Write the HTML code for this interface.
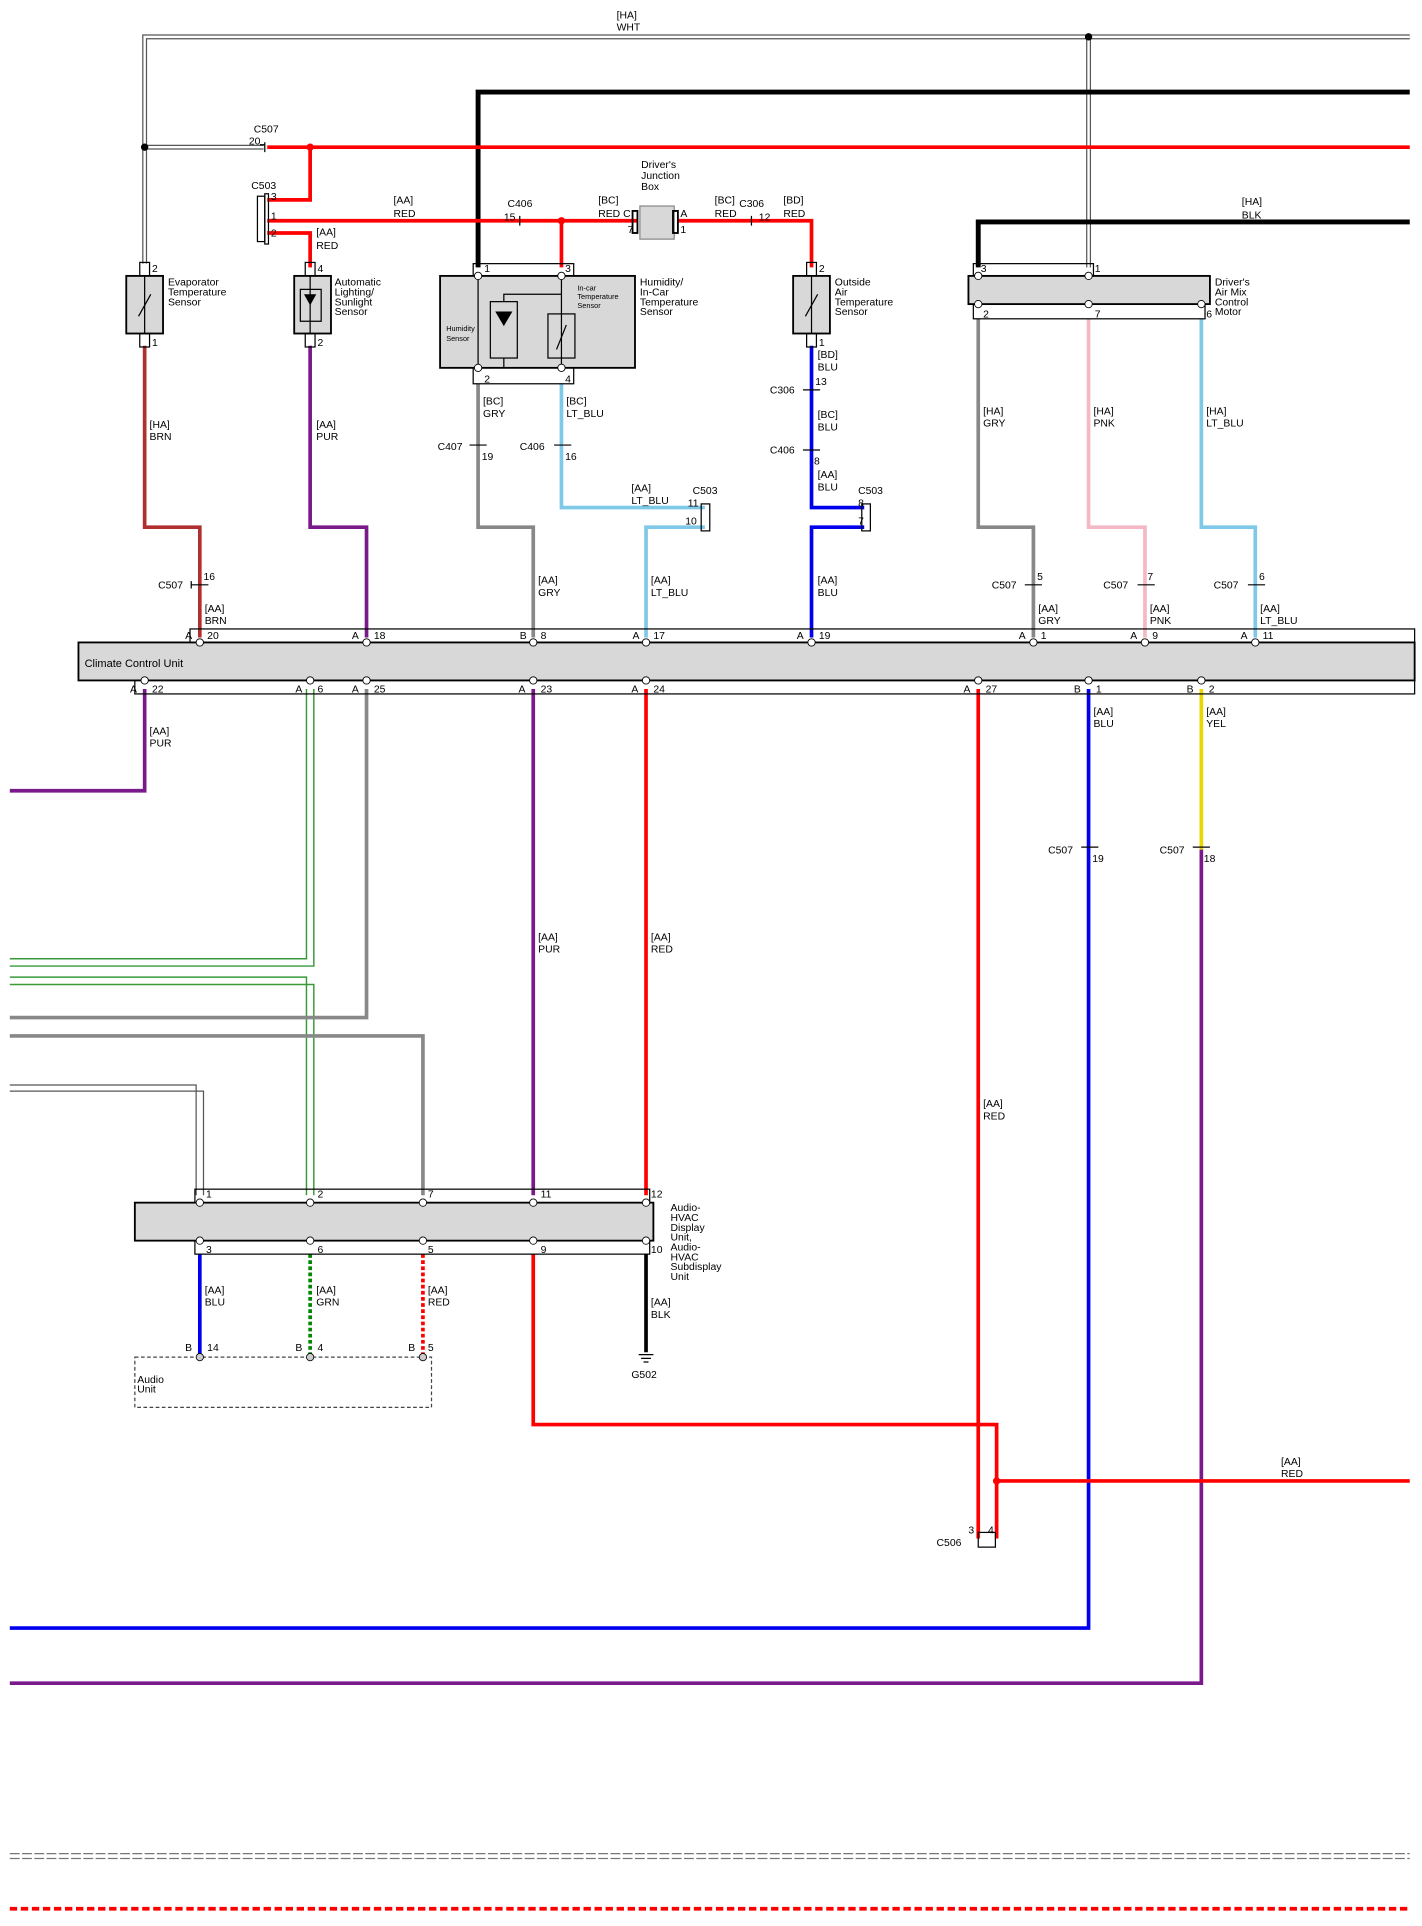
<!DOCTYPE html>
<html><head><meta charset="utf-8"><style>
html,body{margin:0;padding:0;background:#fff;}
svg{display:block}
text{font-family:"Liberation Sans",Arial,sans-serif;font-size:8.5px;fill:#000}
</style></head><body>
<svg width="1422" height="1926" viewBox="0 0 1160 1571" xmlns="http://www.w3.org/2000/svg">
<g fill="none" stroke-linejoin="miter">
<!-- WHT double lines -->
<path d="M118,215 V30 H1150 M888,30 V218 M118,120 H215" stroke="#555" stroke-width="4"/>
<path d="M118,215 V30 H1150 M888,30 V218 M118,120 H215" stroke="#fff" stroke-width="2"/>
<!-- black -->
<path d="M390,218 V75 H1150" stroke="#000" stroke-width="4"/>
<path d="M798,218 V181 H1150" stroke="#000" stroke-width="4"/>
<!-- reds -->
<path d="M218,120 H1150 M253,120 V163 H218 M218,180 H520 M553,180 H662 V218 M458,180 V218 M218,190 H253 V218" stroke="#f00" stroke-width="3"/>
<!-- sensor wires down -->
<path d="M118,282 V430 H163 V520" stroke="#b03030" stroke-width="3"/>
<path d="M253,282 V430 H299 V520" stroke="#7a1a8a" stroke-width="3"/>
<path d="M390,313 V430 H435 V520" stroke="#888" stroke-width="3"/>
<path d="M458,313 V414 H575 M575,430 H527 V520" stroke="#7ec8e8" stroke-width="3"/>
<path d="M662,282 V414 H705 M705,430 H662 V520" stroke="#0000ee" stroke-width="3"/>
<path d="M798,260 V430 H843 V520" stroke="#888" stroke-width="3"/>
<path d="M888,260 V430 H934 V520" stroke="#f4b8c4" stroke-width="3"/>
<path d="M980,260 V430 H1024 V520" stroke="#7ec8e8" stroke-width="3"/>
<!-- below CCU -->
<path d="M118,562 V645 H8" stroke="#7a1a8a" stroke-width="3"/>
<path d="M250,562 V782 H8 M256,562 V788 H8" stroke="#3a9a3a" stroke-width="1.2"/>
<path d="M8,797 H250 V975 M8,803 H256 V975" stroke="#3a9a3a" stroke-width="1.2"/>
<path d="M299,562 V830 H8" stroke="#888" stroke-width="3"/>
<path d="M8,845 H345 V975" stroke="#888" stroke-width="3"/>
<path d="M8,885 H160 V975 M8,890 H166 V975" stroke="#555" stroke-width="1"/>
<path d="M435,562 V975" stroke="#7a1a8a" stroke-width="3"/>
<path d="M527,562 V975" stroke="#f00" stroke-width="3"/>
<path d="M798,562 V1255" stroke="#f00" stroke-width="3"/>
<path d="M888,562 V1328 H8" stroke="#0000ee" stroke-width="3"/>
<path d="M980,562 V693" stroke="#e8d800" stroke-width="3"/>
<path d="M980,693 V1373 H8" stroke="#7a1a8a" stroke-width="3"/>
<!-- HVAC below -->
<path d="M163,1023 V1105" stroke="#0000ee" stroke-width="3"/>
<path d="M253,1023 V1105" stroke="#080" stroke-width="3" stroke-dasharray="3,2"/>
<path d="M345,1023 V1105" stroke="#f00" stroke-width="3" stroke-dasharray="3,2"/>
<path d="M435,1023 V1162 H813 V1255 M813,1208 H1150" stroke="#f00" stroke-width="3"/>
<path d="M527,1023 V1103" stroke="#000" stroke-width="3"/>
<!-- bottom dashed -->
<path d="M8,1512 H1150 M8,1516 H1150" stroke="#777" stroke-width="1" stroke-dasharray="8,2"/>
<path d="M8,1557 H1150" stroke="#f00" stroke-width="3" stroke-dasharray="6,3"/>
</g>
<!-- dots -->
<g fill="#000"><circle cx="118" cy="120" r="3"/><circle cx="888" cy="30" r="3"/></g>
<g fill="#f00"><circle cx="253" cy="120" r="3"/><circle cx="458" cy="180" r="3"/><circle cx="813" cy="1208" r="3"/></g>
<!-- components -->
<g stroke="#000" stroke-width="1.5" fill="#d8d8d8">
<rect x="103" y="225" width="30" height="47"/>
<rect x="240" y="225" width="30" height="47"/>
<rect x="359" y="225" width="159" height="75"/>
<rect x="647" y="225" width="30" height="47"/>
<rect x="790" y="225" width="197" height="23"/>
<rect x="64" y="524" width="1090" height="31"/>
<rect x="110" y="981" width="423" height="31"/>
<rect x="522" y="168" width="28" height="27" stroke="#888" stroke-width="1"/>
</g>
<g stroke="#000" stroke-width="1" fill="none">
<rect x="114" y="214" width="8" height="11"/><rect x="114" y="272" width="8" height="11"/>
<rect x="249" y="214" width="8" height="11"/><rect x="249" y="272" width="8" height="11"/>
<rect x="658" y="214" width="8" height="11"/><rect x="658" y="272" width="8" height="11"/>
<rect x="386" y="215" width="82" height="10"/><rect x="386" y="300" width="82" height="13"/>
<rect x="794" y="215" width="98" height="10"/><rect x="794" y="248" width="189" height="12"/>
<rect x="155" y="513" width="999" height="11"/><rect x="110" y="555" width="1044" height="11"/>
<rect x="159" y="970" width="371" height="11"/><rect x="159" y="1012" width="371" height="11"/>
<rect x="210" y="160" width="6" height="37"/><rect x="216" y="158" width="3" height="41"/>
<rect x="516" y="172" width="4" height="18" stroke-width="1.5"/><rect x="549" y="172" width="4" height="18" stroke-width="1.5"/>
<rect x="400" y="246" width="22" height="46"/><rect x="447" y="256" width="22" height="36"/>
<rect x="572" y="411" width="7" height="22"/><rect x="703" y="411" width="7" height="22"/>
<rect x="798" y="1250" width="14" height="12"/>
<rect x="110" y="1107" width="242" height="41" stroke-dasharray="3,2" stroke="#444"/>
<path d="M390,225 V300 M458,225 V300 M458,240 H411 V246 M411,292 V300 H390"/>
<path d="M118,225 V272 M253,225 V272 M662,225 V272"/>
<path d="M253,236 H245 V262 H262 V236 H253"/>
<path d="M113,258 L123,240 M454,285 L462,265 M657,258 L667,240"/>
<!-- connectors small -->
<path d="M216,116 v8 M212,118 h4 M424,176 v8 M613,176 v8 M156,477 h14 M156,474 v6 M383,363 h14 M452,363 h14 M655,318 h14 M655,367 h14 M836,477 h14 M928,477 h14 M1018,477 h14 M882,691 h14 M973,691 h14"/>
<path d="M521,1105 h12 M523,1108 h8 M525,1111 h4"/>
</g>
<path d="M404,254 h14 l-7,12 z" fill="#000"/>
<path d="M248,240 h10 l-5,9 z" fill="#000"/>
<g fill="#fff" stroke="#000" stroke-width="0.7">
<circle cx="390" cy="225" r="3"/><circle cx="458" cy="225" r="3"/><circle cx="390" cy="300" r="3"/><circle cx="458" cy="300" r="3"/>
<circle cx="798" cy="225" r="3"/><circle cx="888" cy="225" r="3"/><circle cx="798" cy="248" r="3"/><circle cx="888" cy="248" r="3"/><circle cx="980" cy="248" r="3"/>
<circle cx="163" cy="524" r="3"/><circle cx="299" cy="524" r="3"/><circle cx="435" cy="524" r="3"/><circle cx="527" cy="524" r="3"/><circle cx="662" cy="524" r="3"/><circle cx="843" cy="524" r="3"/><circle cx="934" cy="524" r="3"/><circle cx="1024" cy="524" r="3"/>
<circle cx="118" cy="555" r="3"/><circle cx="253" cy="555" r="3"/><circle cx="299" cy="555" r="3"/><circle cx="435" cy="555" r="3"/><circle cx="527" cy="555" r="3"/><circle cx="798" cy="555" r="3"/><circle cx="888" cy="555" r="3"/><circle cx="980" cy="555" r="3"/>
<circle cx="163" cy="981" r="3"/><circle cx="253" cy="981" r="3"/><circle cx="345" cy="981" r="3"/><circle cx="435" cy="981" r="3"/><circle cx="527" cy="981" r="3"/>
<circle cx="163" cy="1012" r="3"/><circle cx="253" cy="1012" r="3"/><circle cx="345" cy="1012" r="3"/><circle cx="435" cy="1012" r="3"/><circle cx="527" cy="1012" r="3"/>
<circle cx="163" cy="1107" r="3" fill="#ccc"/><circle cx="253" cy="1107" r="3" fill="#ccc"/><circle cx="345" cy="1107" r="3" fill="#ccc"/>
</g>
<!-- labels -->
<text x="503" y="15">[HA]</text><text x="503" y="25">WHT</text>
<text x="207" y="108">C507</text><text x="203" y="118">20</text>
<text x="205" y="154">C503</text><text x="221" y="163">3</text><text x="221" y="179">1</text><text x="221" y="193">2</text>
<text x="258" y="192">[AA]</text><text x="258" y="203">RED</text>
<text x="321" y="166">[AA]</text><text x="321" y="177">RED</text>
<text x="414" y="169">C406</text><text x="411" y="180">15</text>
<text x="488" y="166">[BC]</text><text x="488" y="177">RED C</text><text x="512" y="190">7</text>
<text x="523" y="137">Driver's</text><text x="523" y="146">Junction</text><text x="523" y="155">Box</text>
<text x="555" y="177">A</text><text x="555" y="190">1</text>
<text x="583" y="166">[BC]</text><text x="583" y="177">RED</text><text x="603" y="169">C306</text><text x="619" y="180">12</text>
<text x="639" y="166">[BD]</text><text x="639" y="177">RED</text>
<text x="1013" y="167">[HA]</text><text x="1013" y="178">BLK</text>
<text x="124" y="222">2</text><text x="124" y="282">1</text>
<text x="137" y="233">Evaporator</text><text x="137" y="241">Temperature</text><text x="137" y="249">Sensor</text>
<text x="259" y="222">4</text><text x="259" y="282">2</text>
<text x="273" y="233">Automatic</text><text x="273" y="241">Lighting/</text><text x="273" y="249">Sunlight</text><text x="273" y="257">Sensor</text>
<text x="395" y="222">1</text><text x="461" y="222">3</text><text x="395" y="312">2</text><text x="461" y="312">4</text>
<text x="522" y="233">Humidity/</text><text x="522" y="241">In-Car</text><text x="522" y="249">Temperature</text><text x="522" y="257">Sensor</text>
<text x="471" y="237" style="font-size:6px">In-car</text><text x="471" y="244" style="font-size:6px">Temperature</text><text x="471" y="251" style="font-size:6px">Sensor</text>
<text x="364" y="270" style="font-size:6px">Humidity</text><text x="364" y="278" style="font-size:6px">Sensor</text>
<text x="668" y="222">2</text><text x="668" y="282">1</text>
<text x="681" y="233">Outside</text><text x="681" y="241">Air</text><text x="681" y="249">Temperature</text><text x="681" y="257">Sensor</text>
<text x="800" y="222">3</text><text x="893" y="222">1</text><text x="802" y="259">2</text><text x="893" y="259">7</text><text x="984" y="259">6</text>
<text x="991" y="233">Driver's</text><text x="991" y="241">Air Mix</text><text x="991" y="249">Control</text><text x="991" y="257">Motor</text>
<text x="667" y="292">[BD]</text><text x="667" y="302">BLU</text><text x="628" y="321">C306</text><text x="665" y="314">13</text>
<text x="667" y="341">[BC]</text><text x="667" y="351">BLU</text><text x="628" y="370">C406</text><text x="664" y="379">8</text>
<text x="667" y="390">[AA]</text><text x="667" y="400">BLU</text><text x="700" y="403">C503</text><text x="700" y="413">8</text><text x="700" y="428">7</text>
<text x="122" y="349">[HA]</text><text x="122" y="359">BRN</text>
<text x="258" y="349">[AA]</text><text x="258" y="359">PUR</text>
<text x="394" y="330">[BC]</text><text x="394" y="340">GRY</text><text x="357" y="367">C407</text><text x="393" y="375">19</text>
<text x="462" y="330">[BC]</text><text x="462" y="340">LT_BLU</text><text x="424" y="367">C406</text><text x="461" y="375">16</text>
<text x="515" y="401">[AA]</text><text x="515" y="411">LT_BLU</text><text x="565" y="403">C503</text><text x="561" y="413">11</text><text x="559" y="428">10</text>
<text x="802" y="338">[HA]</text><text x="802" y="348">GRY</text>
<text x="892" y="338">[HA]</text><text x="892" y="348">PNK</text>
<text x="984" y="338">[HA]</text><text x="984" y="348">LT_BLU</text>
<text x="129" y="480">C507</text><text x="166" y="473">16</text>
<text x="439" y="476">[AA]</text><text x="439" y="486">GRY</text>
<text x="531" y="476">[AA]</text><text x="531" y="486">LT_BLU</text>
<text x="667" y="476">[AA]</text><text x="667" y="486">BLU</text>
<text x="809" y="480">C507</text><text x="846" y="473">5</text>
<text x="900" y="480">C507</text><text x="936" y="473">7</text>
<text x="990" y="480">C507</text><text x="1027" y="473">6</text>
<text x="167" y="499">[AA]</text><text x="167" y="509">BRN</text>
<text x="847" y="499">[AA]</text><text x="847" y="509">GRY</text>
<text x="938" y="499">[AA]</text><text x="938" y="509">PNK</text>
<text x="1028" y="499">[AA]</text><text x="1028" y="509">LT_BLU</text>
<text x="151" y="521">A</text><text x="169" y="521">20</text><text x="287" y="521">A</text><text x="305" y="521">18</text>
<text x="424" y="521">B</text><text x="441" y="521">8</text><text x="516" y="521">A</text><text x="533" y="521">17</text>
<text x="650" y="521">A</text><text x="668" y="521">19</text><text x="831" y="521">A</text><text x="849" y="521">1</text>
<text x="922" y="521">A</text><text x="940" y="521">9</text><text x="1012" y="521">A</text><text x="1030" y="521">11</text>
<text x="69" y="544" style="font-size:9px">Climate Control Unit</text>
<text x="106" y="565">A</text><text x="124" y="565">22</text><text x="241" y="565">A</text><text x="259" y="565">6</text>
<text x="287" y="565">A</text><text x="305" y="565">25</text><text x="423" y="565">A</text><text x="441" y="565">23</text>
<text x="515" y="565">A</text><text x="533" y="565">24</text><text x="786" y="565">A</text><text x="804" y="565">27</text>
<text x="876" y="565">B</text><text x="894" y="565">1</text><text x="968" y="565">B</text><text x="986" y="565">2</text>
<text x="122" y="599">[AA]</text><text x="122" y="609">PUR</text>
<text x="892" y="583">[AA]</text><text x="892" y="593">BLU</text>
<text x="984" y="583">[AA]</text><text x="984" y="593">YEL</text>
<text x="855" y="696">C507</text><text x="891" y="703">19</text>
<text x="946" y="696">C507</text><text x="982" y="703">18</text>
<text x="439" y="767">[AA]</text><text x="439" y="777">PUR</text>
<text x="531" y="767">[AA]</text><text x="531" y="777">RED</text>
<text x="802" y="903">[AA]</text><text x="802" y="913">RED</text>
<text x="168" y="977">1</text><text x="259" y="977">2</text><text x="349" y="977">7</text><text x="441" y="977">11</text><text x="531" y="977">12</text>
<text x="168" y="1022">3</text><text x="259" y="1022">6</text><text x="349" y="1022">5</text><text x="441" y="1022">9</text><text x="531" y="1022">10</text>
<text x="547" y="988">Audio-</text><text x="547" y="996">HVAC</text><text x="547" y="1004">Display</text><text x="547" y="1012">Unit,</text><text x="547" y="1020">Audio-</text><text x="547" y="1028">HVAC</text><text x="547" y="1036">Subdisplay</text><text x="547" y="1044">Unit</text>
<text x="167" y="1055">[AA]</text><text x="167" y="1065">BLU</text>
<text x="258" y="1055">[AA]</text><text x="258" y="1065">GRN</text>
<text x="349" y="1055">[AA]</text><text x="349" y="1065">RED</text>
<text x="531" y="1065">[AA]</text><text x="531" y="1075">BLK</text>
<text x="515" y="1124">G502</text>
<text x="151" y="1102">B</text><text x="169" y="1102">14</text><text x="241" y="1102">B</text><text x="259" y="1102">4</text><text x="333" y="1102">B</text><text x="349" y="1102">5</text>
<text x="112" y="1128">Audio</text><text x="112" y="1136">Unit</text>
<text x="1045" y="1195">[AA]</text><text x="1045" y="1205">RED</text>
<text x="790" y="1251">3</text><text x="806" y="1251">4</text><text x="764" y="1261">C506</text>
</svg>
</body></html>
